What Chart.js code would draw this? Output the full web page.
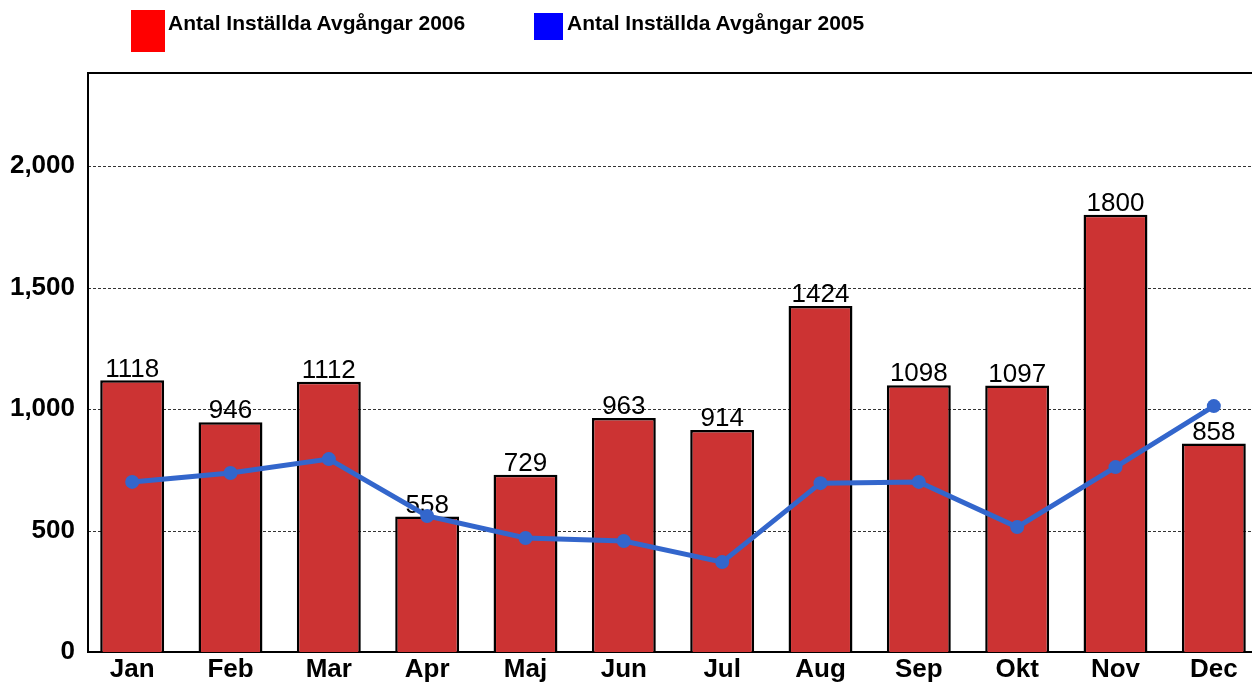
<!DOCTYPE html>
<html>
<head>
<meta charset="utf-8">
<script src="https://cdn.jsdelivr.net/npm/chart.js@4.4.1/dist/chart.umd.min.js"></script>
<style>
  body { margin: 0; background: #fff; overflow: hidden; width: 1252px; height: 684px; position: relative;
         font-family: "Liberation Sans", Arial, sans-serif; }
  #wrap { position: absolute; left: 0; top: 0; width: 1270px; height: 684px; }
  .leg { position: absolute; font-weight: bold; font-size: 21px; color: #000; white-space: nowrap; line-height: 24px; }
  .sw { position: absolute; }
</style>
</head>
<body>
<div id="wrap"><canvas id="c" width="1270" height="684"></canvas></div>
<div id="legend"></div>
<script>
const months = ['Jan', 'Feb', 'Mar', 'Apr', 'Maj', 'Jun', 'Jul', 'Aug', 'Sep', 'Okt', 'Nov', 'Dec'];
const cancelled2006 = [1118, 946, 1112, 558, 729, 963, 914, 1424, 1098, 1097, 1800, 858];
const cancelled2005 = [700, 737, 794, 560, 469, 457, 370, 695, 700, 514, 761, 1012];
const seriesNames = ['Antal Inställda Avgångar 2006', 'Antal Inställda Avgångar 2005'];
const yTicks = [0, 500, 1000, 1500, 2000];
const yMax = 2383;

const barColor = '#CC3333';
const lineColor = '#3366CC';
const font = '"Liberation Sans", Arial, sans-serif';

// legend as html text (red box is a bit taller in the original)
const legendBoxes = [
  { sw: [131, 10, 34, 42], color: '#FF0000', text: [168, 11] },
  { sw: [534, 13, 29, 27], color: '#0000FF', text: [567, 11] }
];
const legendEl = document.getElementById('legend');
seriesNames.forEach((name, i) => {
  const b = legendBoxes[i];
  const s = document.createElement('div');
  s.className = 'sw';
  s.style.cssText = `left:${b.sw[0]}px;top:${b.sw[1]}px;width:${b.sw[2]}px;height:${b.sw[3]}px;background:${b.color}`;
  legendEl.appendChild(s);
  const t = document.createElement('div');
  t.className = 'leg';
  t.style.left = b.text[0] + 'px';
  t.style.top = b.text[1] + 'px';
  t.textContent = name;
  legendEl.appendChild(t);
});

// frame + dashed grid, axis line sits a few px right of the category start
const frame = {
  id: 'frame',
  beforeDatasetsDraw(chart) {
    const { ctx, chartArea: a, scales: { y } } = chart;
    const x0 = a.left + 5;
    ctx.save();
    ctx.strokeStyle = '#333';
    ctx.lineWidth = 1;
    ctx.setLineDash([3, 2]);
    yTicks.forEach(v => {
      if (!v) return;
      const py = Math.round(y.getPixelForValue(v)) + 0.5;
      ctx.beginPath();
      ctx.moveTo(x0, py);
      ctx.lineTo(a.right, py);
      ctx.stroke();
    });
    ctx.setLineDash([]);
    ctx.strokeStyle = '#000';
    ctx.lineWidth = 2;
    ctx.beginPath();
    ctx.moveTo(a.right, a.top);
    ctx.lineTo(x0, a.top);
    ctx.lineTo(x0, a.bottom);
    ctx.lineTo(a.right, a.bottom);
    ctx.stroke();
    ctx.restore();
  }
};

// values above the bars, drawn before the line so the line covers them
const barLabels = {
  id: 'barLabels',
  afterDatasetDraw(chart, args) {
    if (args.index !== 0) return;
    const ctx = chart.ctx;
    const meta = chart.getDatasetMeta(0);
    ctx.save();
    ctx.font = '26px ' + font;
    ctx.fillStyle = '#000';
    ctx.textAlign = 'center';
    ctx.textBaseline = 'bottom';
    meta.data.forEach((el, i) => {
      ctx.fillText(String(cancelled2006[i]), el.x, el.y + 2);
    });
    ctx.restore();
  }
};

new Chart(document.getElementById('c'), {
  data: {
    labels: months,
    datasets: [
      {
        type: 'bar',
        label: seriesNames[0],
        data: cancelled2006,
        backgroundColor: barColor,
        borderColor: '#000',
        borderWidth: 2.5,
        barPercentage: 0.65,
        categoryPercentage: 1,
        order: 2
      },
      {
        type: 'line',
        label: seriesNames[1],
        data: cancelled2005,
        borderColor: lineColor,
        backgroundColor: lineColor,
        borderWidth: 5,
        pointRadius: 7,
        pointBackgroundColor: lineColor,
        pointBorderWidth: 0,
        tension: 0,
        fill: false,
        order: 1
      }
    ]
  },
  options: {
    responsive: false,
    animation: false,
    layout: { padding: { top: 73, left: 0, right: 4, bottom: 0 } },
    plugins: { legend: { display: false }, tooltip: { enabled: false } },
    scales: {
      x: {
        grid: { display: false, drawTicks: false },
        border: { display: false },
        ticks: { color: '#000', font: { family: font, size: 26, weight: 'bold' }, padding: 2, maxRotation: 0 },
        afterFit(s) { s.height = 32; }
      },
      y: {
        min: 0,
        max: yMax,
        grid: { display: false, drawTicks: false },
        border: { display: false },
        afterBuildTicks(s) { s.ticks = yTicks.map(v => ({ value: v })); },
        ticks: {
          color: '#000',
          padding: 8,
          font: { family: font, size: 26, weight: 'bold' },
          callback: v => v.toLocaleString('en-US')
        },
        afterFit(s) { s.width = 83; }
      }
    }
  },
  plugins: [frame, barLabels]
});
</script>
</body>
</html>
